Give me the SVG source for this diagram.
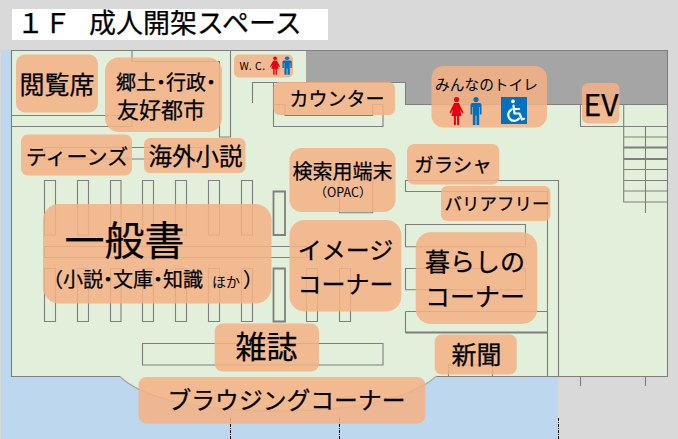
<svg xmlns="http://www.w3.org/2000/svg" width="678" height="439" viewBox="0 0 678 439">
<style>
.w{fill:none;stroke:#7f7f7f;stroke-width:1.1}
.t{stroke-width:1.8}
.n{fill:#F4B183;fill-opacity:.86}
text{font-family:"Noto Sans CJK JP","Noto Sans",sans-serif;fill:#000;text-anchor:middle;stroke:#000;stroke-width:.25}
.p{font-feature-settings:"palt"}
.s{text-anchor:start}
.r{fill:#e60012}.b{fill:#0070c0}
</style>
<defs>
<g id="woman"><circle cx="7" cy="2.6" r="2.6"/><path d="M4.6 6H9.4L14 15.5 12.8 16.5 10.6 12.5 12 19H9.6V28H7.6V19H6.4V28H4.4V19H2L3.4 12.5 1.2 16.5 0 15.5Z"/></g>
<g id="man"><circle cx="6" cy="2.6" r="2.6"/><path d="M2.5 6H9.5Q11.5 6 11.5 8V17.5H9.8V10H9.2V28H6.5V18.5H5.5V28H2.8V10H2.2V17.5H.5V8Q.5 6 2.5 6Z"/></g>
</defs>
<rect width="678" height="439" fill="#d9d9d9"/>
<path d="M1 50H12V376H558V439H1Z" fill="#bdd7ee"/>
<path d="M11.5 50.5H667.5V376.5H436.5C410 400 350 411 278 411 190 411 140 396 120 376.5H11.5Z" fill="#e2efda"/>
<path d="M306 50H667.5V104.5H405.5V82.5H306Z" fill="#a5a5a5"/>
<rect x="12" y="9" width="316" height="31" fill="#fff"/>
<g id="connectors">
<path class="w" d="M120 376.5H11.5V50.5H667.5V376.5H436.5"/>
<path class="w" d="M120 376.5C140 396 190 411 278 411 350 411 410 400 436.5 376" stroke-opacity=".6"/>
<path class="w" d="M11.5 115.5H132V126.5H11.5M132 50.5V61.5H219.5V137H230.5V50.5"/>
<path class="w" d="M252.5 103V82.5H405.5V104.5H667.5"/>
<path class="w" d="M273.5 82.5V126.5H383V104.5H372.7V115.5H285V104.5H273.5"/>
<path class="w" d="M44.5 147.5H210M44.5 159H210M44.5 147.5V159"/>
<path class="w" d="M44.5 235V180.5H55.5V235ZM77.5 235V180.5H88.5V235ZM110.5 235V180.5H121V235ZM142.5 235V180.5H153.5V235ZM175.5 235V180.5H186.5V235ZM208.5 235V180.5H219.5V235ZM241.5 235V180.5H252.5V235Z"/>
<path class="w" d="M44.5 268.5V321.5H55.5V268.5ZM77.5 268.5V321.5H88.5V268.5ZM110.5 268.5V321.5H121V268.5ZM142.5 268.5V321.5H153.5V268.5ZM175.5 268.5V321.5H186.5V268.5ZM208.5 268.5V321.5H219.5V268.5ZM241.5 268.5V321.5H252.5V268.5ZM306.5 268.5V321.5H317.5V268.5ZM339.5 268.5V321.5H350.5V268.5Z"/>
<path class="w" d="M44.5 246.5H306.5V257.5H44.5Z"/>
<path class="w t" d="M273.5 191.5H285V235H273.5ZM273.5 268.5H285V321.5H273.5Z"/>
<path class="w" d="M339.5 181V212.7H372.7V181"/>
<path class="w" d="M142.5 343.5H383V365H142.5Z"/>
<path class="w" d="M448.5 376.5V365H492.5V376.5"/>
<path class="w" d="M547.5 376.5V191.5H405.5V180.5H558.5V376.5"/>
<path class="w" d="M525.5 246.7H405.5V224.5H525.5ZM525.5 289.7H405.5V268.5H525.5Z"/>
<path class="w" d="M405.5 311.5V332.5H547.5M405.5 311.5H547.5"/>
<path class="w t" d="M405.5 332.5H547.5"/>
<path class="w" d="M580.5 104.5V126.5H623.7M623.7 104.5V202H667.5M645.5 126.5V213M623.7 126.5H667.5M623.7 137H667.5M623.7 169.5H667.5M623.7 180.5H667.5M623.7 191H667.5"/>
<path class="w t" d="M623.7 147.5H667.5M623.7 159H667.5"/>
<path class="w" d="M580.5 376.5V386M645.5 376.5V386"/>
<path d="M230.5 418V439M339.5 418V439M558.5 418V439" fill="none" stroke="#000" stroke-width="1" stroke-dasharray="3 1 1 1"/>
</g>
<g id="n-reading"><rect class="n" x="16" y="54.5" width="82" height="58" rx="9"/><text x="57" y="94" font-size="25">閲覧席</text></g>
<g id="n-local"><rect class="n" x="105" y="57.5" width="117" height="74.5" rx="14"/><text class="p" x="166" y="90" font-size="20">郷土・行政・</text><text x="161" y="118" font-size="22">友好都市</text></g>
<g id="n-wc"><rect class="n" x="234" y="54.5" width="59" height="23" rx="5"/><text x="252.5" y="70" font-size="10.5" style="letter-spacing:.5px;stroke-width:0">W. C.</text><use href="#woman" class="r" transform="translate(270 56.5) scale(.72 .65)"/><use href="#man" class="b" transform="translate(282 56.5) scale(.85 .65)"/></g>
<g id="n-counter"><rect class="n" x="273.5" y="82" width="121.5" height="33" rx="6"/><text x="337" y="106" font-size="19">カウンター</text></g>
<g id="n-toilet"><rect class="n" x="431.5" y="66" width="115.5" height="61.5" rx="12"/><text x="486.5" y="90" font-size="14.7" style="stroke-width:0">みんなのトイレ</text><use href="#woman" class="r" transform="translate(449.5 97)"/><use href="#man" class="b" transform="translate(470 97)"/><rect class="b" x="501" y="97" width="26" height="27"/><g fill="none" stroke="#fff" stroke-width="2.2" stroke-linecap="round" stroke-linejoin="round"><path d="M513.5 105.5 514.5 113.5H519.5L522 119.5 524 118.8"/><path d="M513.5 109H519"/><path d="M511.5 109.5A6 6 0 1 0 519 118.5"/></g><circle cx="513" cy="101.3" r="1.9" fill="#fff"/></g>
<g id="n-ev"><rect class="n" x="582" y="83" width="37.5" height="40.5" rx="6"/><text x="601" y="116" font-size="30">EV</text></g>
<g id="n-teens"><rect class="n" x="21" y="134.5" width="111" height="41" rx="7"/><text x="77" y="164" font-size="21">ティーンズ</text></g>
<g id="n-foreign"><rect class="n" x="144" y="138" width="101.5" height="35" rx="6"/><text x="195.5" y="165" font-size="23.5">海外小説</text></g>
<g id="n-opac"><rect class="n" x="289.5" y="148" width="106" height="64" rx="12"/><text x="342.5" y="179" font-size="20">検索用端末</text><text x="343" y="197" font-size="12.5" style="stroke-width:0">（OPAC）</text></g>
<g id="n-glass"><rect class="n" x="407" y="144" width="92.3" height="40.5" rx="7"/><text x="453" y="172" font-size="19.5">ガラシャ</text></g>
<g id="n-barrier"><rect class="n" x="441" y="186" width="109.3" height="35" rx="6"/><text x="497" y="210" font-size="17.5">バリアフリー</text></g>
<g id="n-general"><rect class="n" x="43" y="204" width="228.5" height="99.5" rx="16"/><text x="124.5" y="255" font-size="40">一般書</text><text class="s" y="287" font-size="20"><tspan x="43">（</tspan><tspan class="p" x="63">小説・文庫・知識</tspan><tspan x="212" font-size="14" style="stroke-width:0">ほか</tspan><tspan x="243">）</tspan></text></g>
<g id="n-image"><rect class="n" x="289.5" y="220" width="111.8" height="91.5" rx="15"/><text x="345.5" y="259" font-size="24">イメージ</text><text x="345.5" y="293" font-size="24">コーナー</text></g>
<g id="n-living"><rect class="n" x="415.7" y="232.3" width="121.6" height="91.7" rx="15"/><text x="475" y="271" font-size="25">暮らしの</text><text x="475" y="306" font-size="25">コーナー</text></g>
<g id="n-magazine"><rect class="n" x="214.7" y="323.5" width="104.3" height="48" rx="8"/><text x="266.5" y="358" font-size="31">雑誌</text></g>
<g id="n-news"><rect class="n" x="434.7" y="334.5" width="82" height="40" rx="7"/><text x="476.5" y="363.5" font-size="25">新聞</text></g>
<g id="n-browsing"><rect class="n" x="138.5" y="377" width="286.8" height="46.5" rx="8"/><text x="286.5" y="409" font-size="23.8">ブラウジングコーナー</text></g>
<text class="s" x="17" y="33" font-size="27">１Ｆ<tspan font-size="18">　</tspan>成人開架スペース</text>
</svg>
